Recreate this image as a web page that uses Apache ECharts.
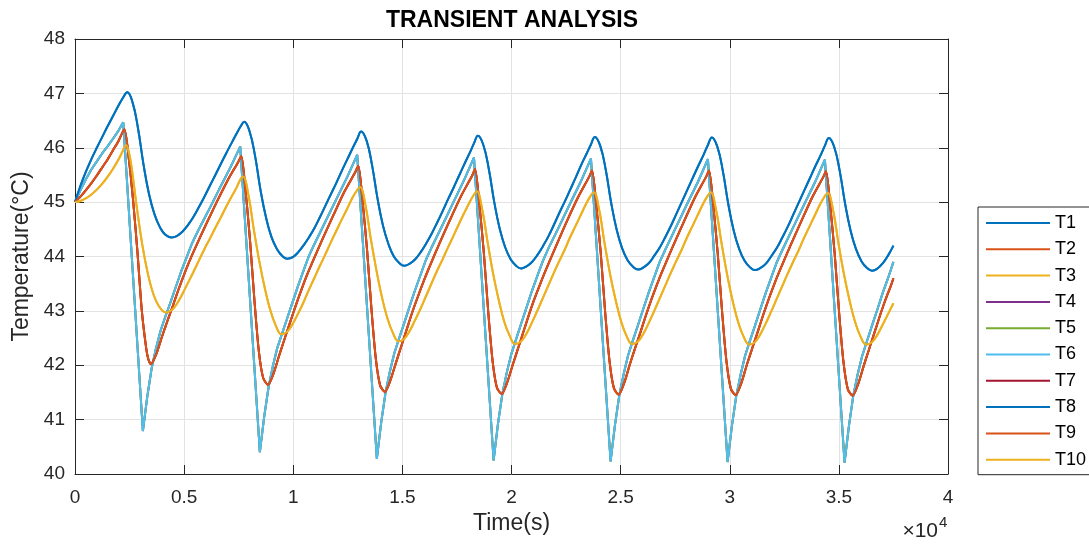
<!DOCTYPE html>
<html>
<head>
<meta charset="utf-8">
<title>TRANSIENT ANALYSIS</title>
<script src="https://cdn.jsdelivr.net/npm/echarts@6/dist/echarts.min.js"></script>
<style>
  html, body { margin: 0; padding: 0; background: #fff; }
  #chart { width: 1089px; height: 544px; }
</style>
</head>
<body>
<div id="chart"></div>
<script>
// time in seconds, temperature in degC
const seriesNames = ["T1", "T2", "T3", "T4", "T5", "T6", "T7", "T8", "T9", "T10"];
const xTicks = [0, 0.5, 1, 1.5, 2, 2.5, 3, 3.5, 4]; // x 10^4 s
const yTicks = [40, 41, 42, 43, 44, 45, 46, 47, 48];

// T1 (T8 lies on top of it)
const timeT1 = [
  0, 250, 500, 750, 1000, 1250, 1500, 1750, 2000, 2200, 2390,
  2640, 2890, 3140, 3390, 3640, 3890, 4140, 4430,
  4680, 4930, 5180, 5430, 5680, 5930, 6180, 6430, 6680, 6930, 7180, 7430, 7600, 7750,
  8000, 8250, 8500, 8750, 9000, 9250, 9500, 9730,
  9980, 10230, 10480, 10730, 10980, 11230, 11480, 11730, 11980, 12230, 12480, 12730, 12930, 13110,
  13360, 13610, 13860, 14110, 14360, 14610, 14860, 15090,
  15340, 15590, 15840, 16090, 16340, 16590, 16840, 17090, 17340, 17590, 17840, 18090, 18280, 18460,
  18710, 18960, 19210, 19460, 19710, 19960, 20210, 20440,
  20690, 20940, 21190, 21440, 21690, 21940, 22190, 22440, 22690, 22940, 23190, 23440, 23640, 23820,
  24070, 24320, 24570, 24820, 25070, 25320, 25570, 25800,
  26050, 26300, 26550, 26800, 27050, 27300, 27550, 27800, 28050, 28300, 28550, 28800, 29000, 29180,
  29430, 29680, 29930, 30180, 30430, 30680, 30930, 31160,
  31410, 31660, 31910, 32160, 32410, 32660, 32910, 33160, 33410, 33660, 33910, 34160, 34360, 34540,
  34790, 35040, 35290, 35540, 35790, 36040, 36290, 36520,
  36770, 37020, 37270, 37500
];
const tempT1 = [
  45.00, 45.30, 45.56, 45.79, 46.00, 46.20, 46.40, 46.59, 46.78, 46.92, 47.02,
  46.83, 46.35, 45.69, 45.15, 44.78, 44.54, 44.40, 44.35,
  44.38, 44.46, 44.58, 44.73, 44.91, 45.10, 45.30, 45.50, 45.70, 45.90, 46.09, 46.28, 46.40, 46.48,
  46.30, 45.85, 45.22, 44.72, 44.36, 44.14, 44.01, 43.96,
  43.99, 44.08, 44.21, 44.36, 44.53, 44.73, 44.94, 45.15, 45.36, 45.58, 45.79, 46.00, 46.16, 46.30,
  46.13, 45.68, 45.07, 44.57, 44.23, 44.00, 43.88, 43.83,
  43.87, 43.95, 44.08, 44.24, 44.42, 44.62, 44.83, 45.05, 45.26, 45.48, 45.70, 45.91, 46.08, 46.22,
  46.05, 45.61, 45.00, 44.51, 44.17, 43.95, 43.83, 43.78,
  43.82, 43.90, 44.03, 44.19, 44.37, 44.58, 44.80, 45.01, 45.23, 45.45, 45.68, 45.89, 46.06, 46.20,
  46.03, 45.59, 44.98, 44.49, 44.15, 43.93, 43.81, 43.76,
  43.80, 43.88, 44.02, 44.17, 44.36, 44.56, 44.78, 45.00, 45.22, 45.44, 45.66, 45.87, 46.05, 46.19,
  46.02, 45.58, 44.97, 44.48, 44.14, 43.92, 43.80, 43.75,
  43.79, 43.87, 44.01, 44.16, 44.35, 44.55, 44.77, 44.99, 45.21, 45.43, 45.65, 45.86, 46.04, 46.18,
  46.01, 45.57, 44.96, 44.47, 44.13, 43.91, 43.79, 43.74,
  43.78, 43.88, 44.03, 44.20
];

// T2 (T7 and T9 lie on it)
const timeT2 = [
  0, 250, 500, 750, 1000, 1250, 1500, 1750, 2000, 2260,
  2460, 2660, 2860, 3060, 3260, 3360, 3480,
  3730, 3980, 4230, 4480, 4730, 4980, 5230, 5480, 5980, 6480, 6980, 7480, 7620,
  7820, 8020, 8220, 8420, 8620, 8840,
  9090, 9340, 9590, 9840, 10090, 10340, 10590, 10840, 11340, 11840, 12340, 12840, 12980,
  13180, 13380, 13580, 13780, 13980, 14200,
  14450, 14700, 14950, 15200, 15450, 15700, 15950, 16200, 16700, 17200, 17700, 18200, 18330,
  18530, 18730, 18930, 19130, 19330, 19550,
  19800, 20050, 20300, 20550, 20800, 21050, 21300, 21550, 22050, 22550, 23050, 23550, 23690,
  23890, 24090, 24290, 24490, 24690, 24910,
  25160, 25410, 25660, 25910, 26160, 26410, 26660, 26910, 27410, 27910, 28410, 28910, 29050,
  29250, 29450, 29650, 29850, 30050, 30270,
  30520, 30770, 31020, 31270, 31520, 31770, 32020, 32270, 32770, 33270, 33770, 34270, 34410,
  34610, 34810, 35010, 35210, 35410, 35630,
  35880, 36130, 36380, 36630, 36880, 37130, 37380, 37500
];
const tempT2 = [
  45.00, 45.10, 45.22, 45.35, 45.49, 45.64, 45.79, 45.96, 46.13, 46.34,
  45.82, 45.04, 44.09, 43.01, 42.32, 42.11, 42.02,
  42.21, 42.52, 42.81, 43.09, 43.38, 43.65, 43.90, 44.13, 44.57, 44.99, 45.39, 45.74, 45.85,
  45.18, 44.29, 43.20, 42.27, 41.77, 41.64,
  41.84, 42.16, 42.47, 42.77, 43.07, 43.35, 43.62, 43.86, 44.32, 44.76, 45.19, 45.55, 45.67,
  45.00, 44.13, 43.05, 42.13, 41.63, 41.51,
  41.72, 42.04, 42.35, 42.66, 42.97, 43.25, 43.52, 43.77, 44.24, 44.69, 45.12, 45.49, 45.61,
  44.95, 44.08, 43.00, 42.09, 41.59, 41.47,
  41.68, 42.00, 42.31, 42.62, 42.93, 43.22, 43.48, 43.73, 44.20, 44.66, 45.09, 45.46, 45.58,
  44.92, 44.06, 42.98, 42.08, 41.58, 41.46,
  41.67, 42.00, 42.31, 42.61, 42.92, 43.21, 43.48, 43.73, 44.20, 44.65, 45.09, 45.46, 45.58,
  44.92, 44.05, 42.98, 42.07, 41.57, 41.45,
  41.66, 41.99, 42.30, 42.60, 42.91, 43.20, 43.47, 43.72, 44.19, 44.64, 45.08, 45.45, 45.57,
  44.91, 44.04, 42.97, 42.06, 41.56, 41.44,
  41.65, 41.98, 42.29, 42.60, 42.91, 43.20, 43.46, 43.60
];

// T3 (T10 lies on it)
const timeT3 = [
  0, 250, 500, 750, 1000, 1250, 1500, 1750, 2000, 2200, 2340,
  2460, 2590, 2840, 3090, 3340, 3590, 3840, 4170,
  4420, 4670, 4920, 5170, 5420, 5670, 5920, 6170, 6420, 6670, 6920, 7170, 7420, 7570, 7700,
  7950, 8200, 8450, 8700, 8950, 9200, 9460,
  9710, 9960, 10210, 10460, 10710, 10960, 11210, 11460, 11710, 11960, 12210, 12460, 12710, 12910, 13060,
  13310, 13560, 13810, 14060, 14310, 14560, 14820,
  15070, 15320, 15570, 15820, 16070, 16320, 16570, 16820, 17070, 17320, 17570, 17820, 18070, 18270, 18410,
  18660, 18910, 19160, 19410, 19660, 19910, 20170,
  20420, 20670, 20920, 21170, 21420, 21670, 21920, 22170, 22420, 22670, 22920, 23170, 23420, 23620, 23770,
  24020, 24270, 24520, 24770, 25020, 25270, 25530,
  25780, 26030, 26280, 26530, 26780, 27030, 27280, 27530, 27780, 28030, 28280, 28530, 28780, 28980, 29130,
  29380, 29630, 29880, 30130, 30380, 30630, 30890,
  31140, 31390, 31640, 31890, 32140, 32390, 32640, 32890, 33140, 33390, 33640, 33890, 34140, 34340, 34490,
  34740, 34990, 35240, 35490, 35740, 35990, 36250,
  36500, 36750, 37000, 37250, 37500
];
const tempT3 = [
  45.00, 45.02, 45.07, 45.14, 45.23, 45.34, 45.47, 45.62, 45.79, 45.95, 46.05,
  45.93, 45.65, 44.88, 44.20, 43.68, 43.31, 43.09, 42.97,
  43.01, 43.13, 43.31, 43.51, 43.71, 43.92, 44.13, 44.32, 44.52, 44.71, 44.91, 45.10, 45.28, 45.41, 45.47,
  45.12, 44.48, 43.90, 43.41, 43.01, 42.73, 42.57,
  42.61, 42.75, 42.94, 43.15, 43.38, 43.60, 43.82, 44.03, 44.25, 44.46, 44.67, 44.87, 45.08, 45.21, 45.28,
  44.94, 44.31, 43.75, 43.26, 42.87, 42.60, 42.44,
  42.48, 42.62, 42.82, 43.03, 43.26, 43.49, 43.72, 43.93, 44.15, 44.36, 44.58, 44.79, 44.99, 45.13, 45.20,
  44.86, 44.25, 43.68, 43.21, 42.81, 42.55, 42.39,
  42.43, 42.57, 42.77, 42.99, 43.22, 43.45, 43.68, 43.90, 44.11, 44.34, 44.55, 44.76, 44.97, 45.11, 45.18,
  44.85, 44.23, 43.67, 43.20, 42.81, 42.54, 42.39,
  42.43, 42.57, 42.77, 42.99, 43.22, 43.45, 43.68, 43.90, 44.11, 44.34, 44.55, 44.76, 44.97, 45.11, 45.18,
  44.84, 44.23, 43.67, 43.19, 42.80, 42.53, 42.38,
  42.42, 42.56, 42.76, 42.98, 43.21, 43.44, 43.67, 43.89, 44.10, 44.33, 44.54, 44.75, 44.96, 45.10, 45.17,
  44.84, 44.22, 43.66, 43.19, 42.80, 42.53, 42.38,
  42.42, 42.55, 42.74, 42.94, 43.14
];

// T4 (T5 and T6 lie on it)
const timeT4 = [
  0, 250, 500, 750, 1000, 1250, 1500, 1750, 2000, 2210,
  3110, 3310, 3510, 3710, 3910, 4110, 4360, 4610, 4860, 5110, 5360, 5610, 6110, 6610, 7110, 7570,
  8470, 8670, 8870, 9070, 9270, 9470, 9720, 9970, 10220, 10470, 10720, 10970, 11470, 11970, 12470, 12930,
  13830, 14030, 14230, 14430, 14630, 14830, 15080, 15330, 15580, 15830, 16080, 16330, 16830, 17330, 17830, 18280,
  19180, 19380, 19580, 19780, 19980, 20180, 20430, 20680, 20930, 21180, 21430, 21680, 22180, 22680, 23180, 23640,
  24540, 24740, 24940, 25140, 25340, 25540, 25790, 26040, 26290, 26540, 26790, 27040, 27540, 28040, 28540, 29000,
  29900, 30100, 30300, 30500, 30700, 30900, 31150, 31400, 31650, 31900, 32150, 32400, 32900, 33400, 33900, 34360,
  35260, 35460, 35660, 35860, 36060, 36260, 36510, 36760, 37010, 37260, 37500
];
const tempT4 = [
  45.00, 45.22, 45.42, 45.60, 45.75, 45.90, 46.03, 46.17, 46.32, 46.47,
  40.79, 41.42, 41.94, 42.31, 42.62, 42.86, 43.14, 43.43, 43.72, 43.98, 44.24, 44.45, 44.84, 45.24, 45.63, 46.02,
  40.40, 41.06, 41.60, 41.99, 42.32, 42.56, 42.86, 43.16, 43.46, 43.74, 44.01, 44.23, 44.64, 45.05, 45.46, 45.87,
  40.28, 40.95, 41.50, 41.89, 42.22, 42.47, 42.77, 43.08, 43.38, 43.66, 43.94, 44.16, 44.57, 44.99, 45.41, 45.82,
  40.25, 40.92, 41.47, 41.86, 42.19, 42.44, 42.75, 43.05, 43.36, 43.64, 43.91, 44.14, 44.55, 44.97, 45.38, 45.80,
  40.23, 40.90, 41.45, 41.84, 42.18, 42.43, 42.73, 43.04, 43.34, 43.62, 43.90, 44.12, 44.54, 44.96, 45.37, 45.79,
  40.22, 40.89, 41.44, 41.83, 42.17, 42.42, 42.72, 43.03, 43.33, 43.61, 43.89, 44.11, 44.53, 44.95, 45.36, 45.78,
  40.21, 40.88, 41.44, 41.83, 42.16, 42.41, 42.72, 43.02, 43.33, 43.61, 43.90
];

// MATLAB default colour order
const lineColors = ["#0072BD", "#D95319", "#EDB120", "#7E2F8E", "#77AC30",
                    "#4DBEEE", "#A2142F", "#0072BD", "#D95319", "#EDB120"];

const zip = (ts, vs) => ts.map((t, i) => [t, vs[i]]);
const curveT1 = zip(timeT1, tempT1);
const curveT2 = zip(timeT2, tempT2);
const curveT3 = zip(timeT3, tempT3);
const curveT4 = zip(timeT4, tempT4);
const curveOf = {
  T1: curveT1, T2: curveT2, T3: curveT3, T4: curveT4, T5: curveT4,
  T6: curveT4, T7: curveT2, T8: curveT1, T9: curveT2, T10: curveT3
};
const smoothOf = { T1: 0.45, T8: 0.45, T3: 0.4, T10: 0.4, T2: 0.25, T7: 0.25, T9: 0.25 };

const axisColor = "#262626";
const gridColor = "#e3e3e3";
const font = "'Liberation Sans', Arial, Helvetica, sans-serif";

const chart = echarts.init(document.getElementById("chart"));

const option = {
  animation: false,
  backgroundColor: "#fff",
  textStyle: { fontFamily: font },
  title: {
    text: "TRANSIENT ANALYSIS",
    left: 507,
    top: 4,
    textAlign: "center",
    textStyle: { fontSize: 23, fontWeight: "bold", color: "#000", fontFamily: font }
  },
  grid: { left: 75, right: 141, top: 39, bottom: 70 },
  legend: {
    orient: "vertical",
    left: 978,
    top: 207,
    padding: [7, 6, 6, 7],
    itemWidth: 64,
    itemHeight: 14,
    itemGap: 8.3,
    borderColor: axisColor,
    borderWidth: 1,
    backgroundColor: "#fff",
    itemStyle: { opacity: 0 },
    data: seriesNames,
    textStyle: { fontSize: 18, color: "#000", fontFamily: font }
  },
  xAxis: [
    {
      type: "value",
      min: xTicks[0] * 1e4,
      max: xTicks[xTicks.length - 1] * 1e4,
      interval: 5000,
      name: "Time(s)",
      nameLocation: "middle",
      nameGap: 34,
      nameTextStyle: { fontSize: 23, color: axisColor, fontFamily: font },
      axisLine: { show: true, lineStyle: { color: axisColor, width: 1 } },
      axisTick: { show: true, inside: true, length: 9, lineStyle: { color: axisColor } },
      axisLabel: {
        fontSize: 19, color: axisColor, margin: 14, fontFamily: font,
        formatter: (v) => String(xTicks[Math.round(v / 5000)])
      },
      splitLine: { show: true, lineStyle: { color: gridColor, width: 1 } }
    },
    {
      type: "value",
      position: "top",
      min: 0,
      max: 40000,
      interval: 5000,
      axisLine: { show: true, onZero: false, lineStyle: { color: axisColor, width: 1 } },
      axisTick: { show: true, inside: true, length: 9, lineStyle: { color: axisColor } },
      axisLabel: { show: false },
      splitLine: { show: false }
    }
  ],
  yAxis: [
    {
      type: "value",
      min: yTicks[0],
      max: yTicks[yTicks.length - 1],
      interval: 1,
      name: "Temperature(°C)",
      nameLocation: "middle",
      nameGap: 41,
      nameTextStyle: { fontSize: 23, color: axisColor, fontFamily: font },
      axisLine: { show: true, lineStyle: { color: axisColor, width: 1 } },
      axisTick: { show: true, inside: true, length: 9, lineStyle: { color: axisColor } },
      axisLabel: { fontSize: 19, color: axisColor, margin: 10, fontFamily: font },
      splitLine: { show: true, lineStyle: { color: gridColor, width: 1 } }
    },
    {
      type: "value",
      position: "right",
      min: 40,
      max: 48,
      interval: 1,
      axisLine: { show: true, onZero: false, lineStyle: { color: axisColor, width: 1 } },
      axisTick: { show: true, inside: true, length: 9, lineStyle: { color: axisColor } },
      axisLabel: { show: false },
      splitLine: { show: false }
    }
  ],
  graphic: [
    {
      type: "text",
      right: 1089 - 938,
      top: 521,
      style: { text: "×10", fontSize: 21, fill: axisColor, fontFamily: font }
    },
    {
      type: "text",
      left: 939,
      top: 515,
      style: { text: "4", fontSize: 15, fill: axisColor, fontFamily: font }
    }
  ],
  series: seriesNames.map((name, i) => ({
    name: name,
    type: "line",
    xAxisIndex: 0,
    yAxisIndex: 0,
    data: curveOf[name],
    symbol: "none",
    smooth: smoothOf[name] || false,
    color: lineColors[i],
    lineStyle: { width: 2, color: lineColors[i] },
    emphasis: { disabled: true }
  }))
};

chart.setOption(option);
</script>
</body>
</html>
